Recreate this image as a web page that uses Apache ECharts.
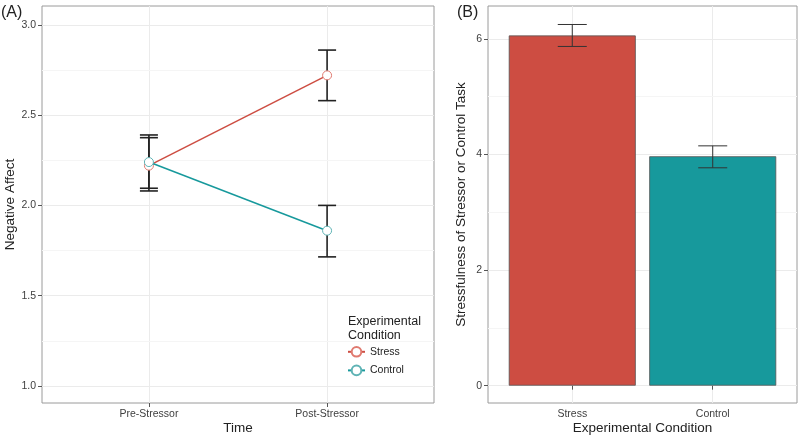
<!DOCTYPE html>
<html>
<head>
<meta charset="utf-8">
<script src="https://cdn.jsdelivr.net/npm/echarts@6/dist/echarts.min.js"></script>
<style>
  html, body { margin: 0; padding: 0; background: #fff; }
  #chart { width: 800px; height: 437px; }
</style>
</head>
<body>
<div id="chart"></div>
<script>
// panel A: negative affect over time
const timePoints = ['Pre-Stressor', 'Post-Stressor'];
const stressMean = [2.22, 2.72];
const stressLo = [2.08, 2.58];
const stressHi = [2.375, 2.86];
const controlMean = [2.24, 1.86];
const controlLo = [2.095, 1.715];
const controlHi = [2.39, 2.0];
const affectTicks = [1, 1.5, 2, 2.5, 3];
const affectMinor = [1.25, 1.75, 2.25, 2.75];

// panel B: rated stressfulness
const conditions = ['Stress', 'Control'];
const stressfulness = [6.06, 3.97];
const stressfulnessLo = [5.87, 3.77];
const stressfulnessHi = [6.25, 4.15];
const ratingTicks = [0, 2, 4, 6];
const ratingMinor = [1, 3, 5];

const RED = '#cd4d42';
const TEAL = '#17999c';
const FONT = 'Liberation Sans';

const chart = echarts.init(document.getElementById('chart'));

function errorBars(xIdx, yIdx, lo, hi, halfCap, color, width, z) {
  return {
    type: 'custom',
    xAxisIndex: xIdx,
    yAxisIndex: yIdx,
    z: z,
    silent: true,
    data: lo.map((v, i) => [i + 1, v, hi[i]]),
    renderItem: function (params, api) {
      const a = api.coord([api.value(0), api.value(1)]);
      const b = api.coord([api.value(0), api.value(2)]);
      const st = { stroke: color, lineWidth: width };
      return {
        type: 'group',
        children: [
          { type: 'line', shape: { x1: a[0], y1: a[1], x2: b[0], y2: b[1] }, style: st },
          { type: 'line', shape: { x1: a[0] - halfCap, y1: a[1], x2: a[0] + halfCap, y2: a[1] }, style: st },
          { type: 'line', shape: { x1: b[0] - halfCap, y1: b[1], x2: b[0] + halfCap, y2: b[1] }, style: st }
        ]
      };
    }
  };
}

// ggplot-style background grid, kept under everything else
function gridLines(xIdx, yIdx, xs, major, minor) {
  const lines = [];
  xs.forEach(v => lines.push({ xAxis: v, lineStyle: { color: '#ebebeb', width: 1, type: 'solid' } }));
  major.forEach(v => lines.push({ yAxis: v, lineStyle: { color: '#ebebeb', width: 1, type: 'solid' } }));
  minor.forEach(v => lines.push({ yAxis: v, lineStyle: { color: '#f5f5f5', width: 1, type: 'solid' } }));
  return {
    type: 'line',
    xAxisIndex: xIdx,
    yAxisIndex: yIdx,
    z: 0,
    silent: true,
    data: [],
    markLine: { z: 0, silent: true, symbol: 'none', label: { show: false }, animation: false, data: lines }
  };
}

const tickLabel = { color: '#404040', fontSize: 10.5, fontFamily: FONT };
const axisName = { color: '#222', fontSize: 13.5, fontFamily: FONT };
const tickStyle = { show: true, length: 4, lineStyle: { color: '#555' } };

const options = {
  animation: false,
  textStyle: { fontFamily: FONT },
  title: [
    { text: '(A)', left: 1, top: 5, padding: 0, textStyle: { fontSize: 16, fontWeight: 'normal', color: '#222', fontFamily: FONT } },
    { text: '(B)', left: 457, top: 5, padding: 0, textStyle: { fontSize: 16, fontWeight: 'normal', color: '#222', fontFamily: FONT } },
    { text: 'Experimental\nCondition', left: 348, top: 315, padding: 0,
      textStyle: { fontSize: 12.5, fontWeight: 'normal', color: '#222', lineHeight: 14, fontFamily: FONT } }
  ],
  legend: {
    data: ['Stress', 'Control'],
    orient: 'vertical',
    left: 347,
    top: 346,
    padding: 0,
    itemWidth: 17,
    itemHeight: 12,
    itemGap: 7,
    textStyle: { fontSize: 10.5, color: '#222', fontFamily: FONT }
  },
  grid: [
    { left: 42, top: 6, width: 392, height: 397, outerBoundsMode: 'none', containLabel: false,
      show: true, borderColor: '#9a9a9a', borderWidth: 1, backgroundColor: 'transparent' },
    { left: 488, top: 6, width: 309, height: 397, outerBoundsMode: 'none', containLabel: false,
      show: true, borderColor: '#9a9a9a', borderWidth: 1, backgroundColor: 'transparent' }
  ],
  xAxis: [
    {
      type: 'value', gridIndex: 0, min: 0.4, max: 2.6,
      name: 'Time', nameLocation: 'middle', nameGap: 18, nameMoveOverlap: false, nameTextStyle: axisName,
      axisLine: { show: false }, splitLine: { show: false },
      axisTick: Object.assign({ customValues: [1, 2] }, tickStyle),
      axisLabel: Object.assign({ customValues: [1, 2], margin: 6, formatter: v => timePoints[Math.round(v) - 1] || '' }, tickLabel)
    },
    {
      type: 'value', gridIndex: 1, min: 0.4, max: 2.6,
      name: 'Experimental Condition', nameLocation: 'middle', nameGap: 18, nameMoveOverlap: false, nameTextStyle: axisName,
      axisLine: { show: false }, splitLine: { show: false },
      axisTick: Object.assign({ customValues: [1, 2] }, tickStyle),
      axisLabel: Object.assign({ customValues: [1, 2], margin: 6, formatter: v => conditions[Math.round(v) - 1] || '' }, tickLabel)
    }
  ],
  yAxis: [
    {
      type: 'value', gridIndex: 0, min: 0.906, max: 3.104,
      name: 'Negative Affect', nameLocation: 'middle', nameGap: 25, nameMoveOverlap: false, nameTextStyle: axisName,
      axisLine: { show: false }, splitLine: { show: false },
      axisTick: Object.assign({ customValues: affectTicks }, tickStyle),
      axisLabel: Object.assign({ customValues: affectTicks, margin: 6, formatter: v => v.toFixed(1) }, tickLabel)
    },
    {
      type: 'value', gridIndex: 1, min: -0.3, max: 6.57,
      name: 'Stressfulness of Stressor or Control Task', nameLocation: 'middle', nameGap: 20, nameMoveOverlap: false, nameTextStyle: axisName,
      axisLine: { show: false }, splitLine: { show: false },
      axisTick: Object.assign({ customValues: ratingTicks }, tickStyle),
      axisLabel: Object.assign({ customValues: ratingTicks, margin: 6 }, tickLabel)
    }
  ],
  series: [
    gridLines(0, 0, [1, 2], affectTicks, affectMinor),
    gridLines(1, 1, [1, 2], ratingTicks, ratingMinor),
    errorBars(0, 0, stressLo, stressHi, 9, '#222', 1.6, 3),
    errorBars(0, 0, controlLo, controlHi, 9, '#222', 1.6, 3),
    {
      name: 'Stress', type: 'line', xAxisIndex: 0, yAxisIndex: 0, z: 4,
      data: stressMean.map((v, i) => [i + 1, v]),
      symbol: 'circle', symbolSize: 9, showSymbol: true,
      lineStyle: { color: RED, width: 1.5 },
      itemStyle: { color: '#fff', borderColor: '#e07a70', borderWidth: 1 }
    },
    {
      name: 'Control', type: 'line', xAxisIndex: 0, yAxisIndex: 0, z: 5,
      data: controlMean.map((v, i) => [i + 1, v]),
      symbol: 'circle', symbolSize: 9, showSymbol: true,
      lineStyle: { color: TEAL, width: 1.5 },
      itemStyle: { color: '#fff', borderColor: '#5fb3b5', borderWidth: 1 }
    },
    {
      type: 'bar', xAxisIndex: 1, yAxisIndex: 1, z: 2, barWidth: 127,
      data: stressfulness.map((v, i) => ({
        value: [i + 1, v],
        itemStyle: { color: i === 0 ? RED : TEAL, borderColor: '#555', borderWidth: 0.8 }
      }))
    },
    errorBars(1, 1, stressfulnessLo, stressfulnessHi, 14.5, '#333', 1, 3)
  ]
};

chart.setOption(options);
</script>
</body>
</html>
